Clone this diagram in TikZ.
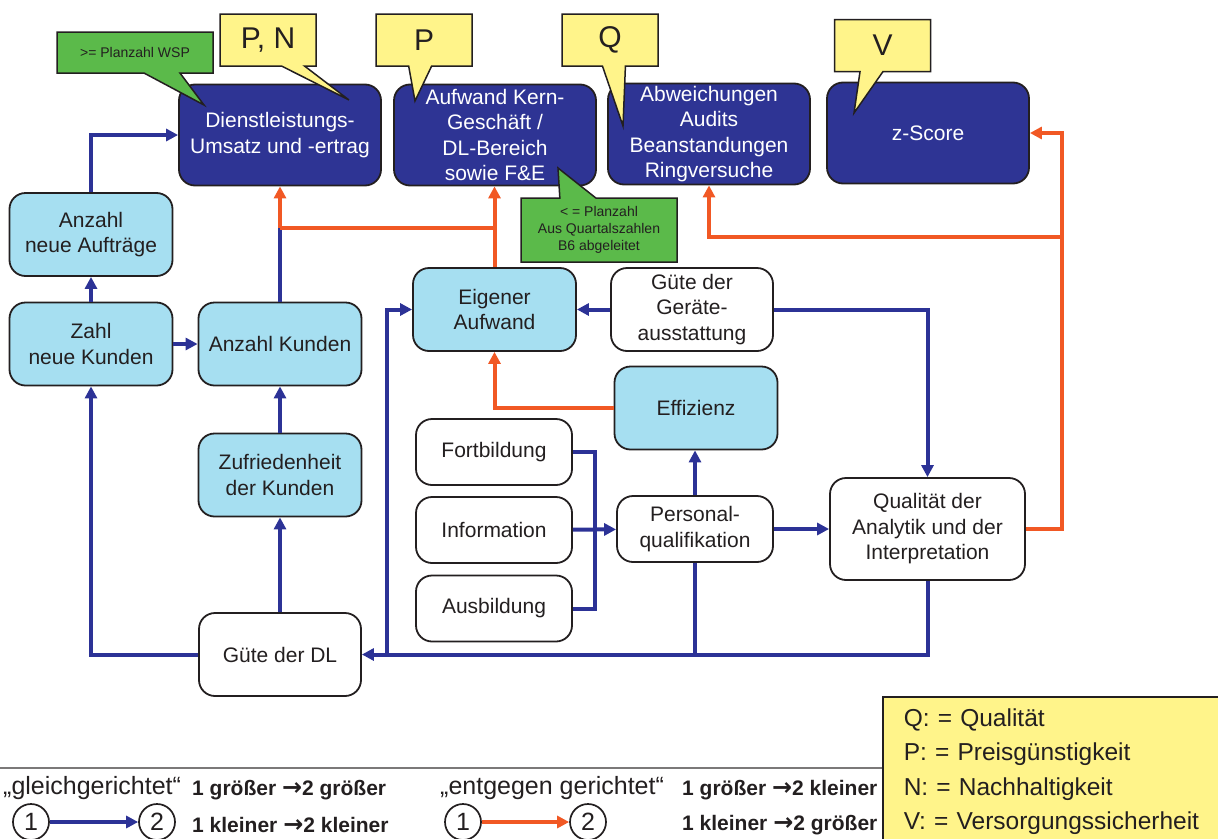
\documentclass[tikz,border=0pt]{standalone}
\usepackage{fontspec}
\setmainfont{Liberation Sans}
\newfontfamily\arrowfont{DejaVu Sans}
\usepackage{tikz}
\usetikzlibrary{arrows.meta, shapes.callouts, positioning}
\definecolor{KdNavy}{RGB}{46,52,148}
\definecolor{KdBlue}{RGB}{44,50,150}
\definecolor{KdOrange}{RGB}{241,88,36}
\definecolor{KdCyan}{RGB}{166,223,241}
\definecolor{KdYellow}{RGB}{255,244,138}
\definecolor{KdGreen}{RGB}{91,186,74}
\definecolor{KdInk}{RGB}{35,31,32}

\begin{document}
\begin{tikzpicture}[x=1pt, y=-1pt,
	kbox/.style={rectangle, rounded corners=16pt, draw=KdInk, line width=1.8pt, align=center,
		text=KdInk, font=\fontsize{21}{25.5}\selectfont, inner sep=1pt},
	navybox/.style={kbox, fill=KdNavy, text=white, minimum width=202pt, minimum height=101pt},
	cyanbox/.style={kbox, fill=KdCyan, minimum width=163pt, minimum height=83pt},
	whitebox/.style={kbox, fill=white, minimum width=162pt, minimum height=83pt},
	gleich/.style={draw=KdBlue, line width=4pt, -{Triangle[length=12pt, width=12pt]}},
	gleichline/.style={draw=KdBlue, line width=4pt},
	gegen/.style={draw=KdOrange, line width=4pt, -{Triangle[length=12pt, width=12pt]}},
	gegenline/.style={draw=KdOrange, line width=4pt},
	ycall/.style={rectangle callout, fill=KdYellow, draw=KdInk, line width=1.5pt, minimum width=96pt,
		minimum height=52pt, callout pointer width=23pt, text=KdInk, font=\fontsize{30}{30}\selectfont},
	gcall/.style={rectangle callout, fill=KdGreen, draw=KdInk, line width=1.5pt, minimum width=156pt,
		callout pointer width=36pt, align=center, text=KdInk, font=\fontsize{14}{17}\selectfont},
	legcirc/.style={circle, draw=KdInk, line width=1.7pt, minimum size=36pt, inner sep=0pt,
		text=KdInk, font=\fontsize{25}{25}\selectfont},
	legtext/.style={anchor=west, inner sep=0pt, text=KdInk, font=\fontsize{25}{25}\selectfont},
	legbold/.style={anchor=west, inner sep=0pt, text=KdInk, font=\fontsize{21}{21}\selectfont\bfseries}]
	\useasboundingbox (0,0) rectangle (1218,838);

	% Zielgroessen
	\node[navybox] (dl) at (280,135) {Dienstleistungs-\\Umsatz und -ertrag};
	\node[navybox] (aufwand) at (495,135) {Aufwand Kern-\\Geschäft /\\DL-Bereich\\sowie F\&E};
	\node[navybox] (abw) at (709,134) {Abweichungen\\Audits\\Beanstandungen\\Ringversuche};
	\node[navybox] (zscore) at (928,133) {z-Score};

	% Einflussgroessen
	\node[cyanbox] (auftraege) at (91,234.5) {Anzahl\\neue Aufträge};
	\node[cyanbox] (neukunden) at (91,344) {Zahl\\neue Kunden};
	\node[cyanbox] (kunden) at (280,344) {Anzahl Kunden};
	\node[cyanbox] (zufrieden) at (280,475) {Zufriedenheit\\der Kunden};
	\node[cyanbox] (eigen) at (494.5,309.5) {Eigener\\Aufwand};
	\node[whitebox] (geraete) at (692,309.5) {Güte der\\Geräte-\\ausstattung};
	\node[cyanbox] (effizienz) at (696,408) {Effizienz};
	\foreach \n/\y/\t in {fort/452/Fortbildung, info/530/Information, ausb/608.5/Ausbildung}
		\node[whitebox, minimum width=156pt, minimum height=66pt] (\n) at (494,\y) {\t};
	\node[whitebox, minimum width=156pt, minimum height=66pt] (personal) at (695,529) {Personal-\\qualifikation};
	\node[whitebox, minimum width=195pt, minimum height=102pt] (qualitaet) at (927.5,529)
		{Qualität der\\Analytik und der\\Interpretation};
	\node[whitebox] (guete) at (280,654.5) {Güte der DL};

	% Sprechblasen
	\node[ycall, callout absolute pointer={(349,100)}] (pn) at (268,40) {P, N};
	\node[ycall, callout absolute pointer={(415,101)}] (p) at (424,40) {P};
	\node[ycall, callout absolute pointer={(623,126)}] (q) at (610,40) {Q};
	\node[ycall, callout absolute pointer={(854,113)}] (v) at (882.5,45.5) {V};
	\node[gcall, minimum height=41pt, callout absolute pointer={(204,105)}] (wsp) at (135,52.5) {>= Planzahl WSP};
	\node[gcall, minimum height=64pt, callout absolute pointer={(558,168)}] (planzahl) at (599,230)
		{< = Planzahl\\Aus Quartalszahlen\\B6 abgeleitet};

	% Verbindungen
	\coordinate (jdl) at (280,228);
	\coordinate (jaufw) at (495,228);
	\coordinate (jz) at (1061,237);
	\coordinate (jbot) at (387,654.5);
	\draw[gleich] (neukunden) -- (auftraege);
	\draw[gleich] (auftraege.north) |- (dl.west);
	\draw[gleich] (neukunden) -- (kunden);
	\draw[gleichline] (kunden.north) -- (jdl);
	\draw[gegen] (eigen.north) -- (eigen.north |- aufwand.south);
	\draw[gegenline] (jaufw) -- (jdl);
	\draw[gegen] (jdl) -- (dl.south);
	\draw[gleich] (zufrieden) -- (kunden);
	\draw[gleich] (guete) -- (zufrieden);
	\draw[gleich] (guete.west) -| (neukunden.south);
	\draw[gleich] (qualitaet.south) |- (guete.east);
	\draw[gleichline] (personal.south) -- (personal.south |- guete.east);
	\draw[gleich] (jbot) |- (eigen.west);
	\draw[gleich] (geraete) -- (eigen);
	\draw[gleich] (geraete.east) -| (qualitaet.north);
	\draw[gleichline] (fort.east) -- ++(22,0) |- (ausb.east);
	\draw[gleich] (info) -- (personal);
	\draw[gleich] (personal.north) -- (personal.north |- effizienz.south);
	\draw[gleich] (personal) -- (qualitaet);
	\draw[gegen] (effizienz.west) -| (eigen.south);
	\draw[gegen] (qualitaet.east) -- ++(36,0) |- (zscore.east);
	\draw[gegen] (jz) -| (abw.south);

	% Legende
	\draw[KdInk!60, line width=1.5pt] (0,768) -- (882,768);
	\node[legtext] (gltext) at (3,788) {„gleichgerichtet“};
	\node[legtext] (getext) at (440,788) {„entgegen gerichtet“};
	\node[legcirc] (g1) at (31,822) {1};
	\node[legcirc] (g2) at (157,822) {2};
	\draw[gleich, line width=3.5pt] (g1) -- (g2);
	\node[legcirc] (e1) at (463,822) {1};
	\node[legcirc] (e2) at (588,822) {2};
	\draw[gegen, line width=3.5pt] (e1) -- (e2);
	\node[legbold] (gl1) at (192,790) {1 größer {\arrowfont\fontsize{24}{24}\selectfont →}2 größer};
	\node[legbold] (gl2) at (192,825) {1 kleiner {\arrowfont\fontsize{24}{24}\selectfont →}2 kleiner};
	\node[legbold] (ge1) at (682,790) {1 größer {\arrowfont\fontsize{24}{24}\selectfont →}2 kleiner};
	\node[legbold] (ge2) at (682,825) {1 kleiner {\arrowfont\fontsize{24}{24}\selectfont →}2 größer};
	\node[anchor=north west, fill=KdYellow, draw=KdInk, line width=1.5pt, minimum height=150pt,
		text width=318pt, inner xsep=21pt, align=left, text=KdInk, font=\fontsize{24.5}{34.5}\selectfont]
		(kuerzel) at (882,696) {Q: = Qualität\\P: = Preisgünstigkeit\\N: = Nachhaltigkeit\\V: = Versorgungssicherheit};
\end{tikzpicture}
\end{document}
